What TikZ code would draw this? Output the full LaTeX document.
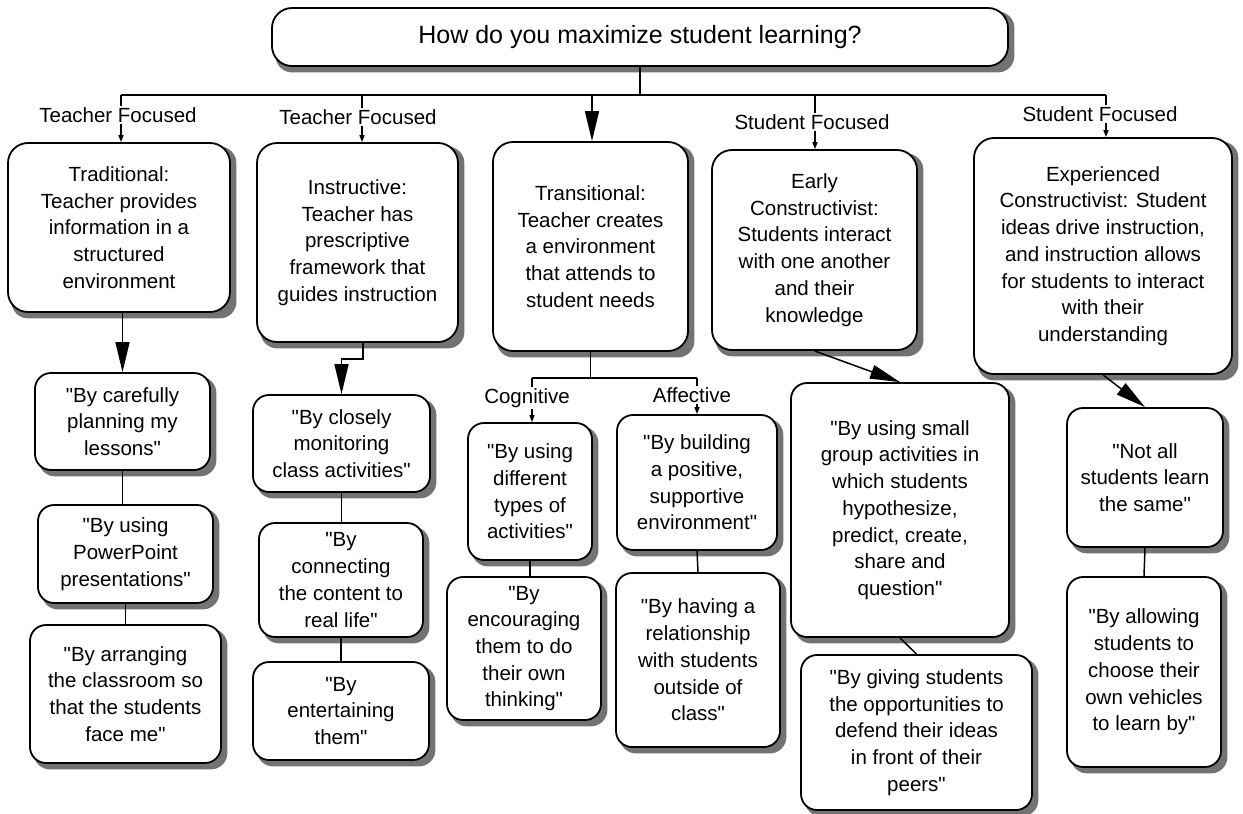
\documentclass[tikz,border=0pt]{standalone}
\usepackage{fontspec}
\setmainfont{Liberation Sans}[Ligatures=TeXOff]
\usetikzlibrary{arrows.meta,calc}
\pgfdeclarelayer{shadowlayer}
\pgfdeclarelayer{paper}
\pgfsetlayers{paper,shadowlayer,main}
\newcommand\boxfont{\fontsize{20.5}{26.7}\selectfont}
\newcommand\titlefont{\fontsize{25}{30}\selectfont}
\begin{document}
\begin{tikzpicture}[x=1pt,y=-1pt,
  box/.style={draw, line width=1.8pt, rounded corners=16pt, fill=white, align=center,
    inner sep=0pt, font=\boxfont},
  bigbox/.style={box, rounded corners=20pt},
  boxshadow/.style={fill=black!55, draw=black!55, line width=1pt, rounded corners=16pt},
  lab/.style={fill=white, inner sep=1pt, font=\boxfont},
  conn/.style={line width=1.5pt},
  big/.style={conn, -{Triangle[width=14pt,length=30pt]}},
  tip/.style={conn, -{Triangle[width=5pt,length=7pt]}}]
\begin{pgfonlayer}{paper}
\fill[white] (0,0) rectangle (1243,814);
\end{pgfonlayer}
\useasboundingbox (0,0) rectangle (1243,814);

% top question
\node[bigbox, font=\titlefont, minimum width=736pt, minimum height=58pt] (Q) at (640,37) {How do you maximize student learning?};

% first level
\node[bigbox, minimum width=222pt, minimum height=169pt] (B1) at (119,227.5) {Traditional:\\Teacher provides\\information in a\\structured\\environment};
\node[bigbox, minimum width=201pt, minimum height=199pt] (B2) at (357.5,242.5) {Instructive:\\Teacher has\\prescriptive\\framework that\\guides instruction};
\node[bigbox, minimum width=195pt, minimum height=209pt] (B3) at (590.5,246.5) {Transitional:\\Teacher creates\\a environment\\that attends to\\student needs};
\node[bigbox, minimum width=205pt, minimum height=200pt] (B4) at (814.5,250) {Early\\Constructivist:\\Students interact\\with one another\\and their\\knowledge};
\node[bigbox, minimum width=258pt, minimum height=236pt] (B5) at (1103,256) {Experienced\\Constructivist: Student\\ideas drive instruction,\\and instruction allows\\for students to interact\\with their\\understanding};

% column 1
\node[box, minimum width=175pt, minimum height=97pt] (C1) at (122.5,421.5) {"By carefully\\planning my\\lessons"};
\node[box, minimum width=175pt, minimum height=98pt] (C2) at (125.5,554) {"By using\\PowerPoint\\presentations"};
\node[box, minimum width=191pt, minimum height=138pt] (C3) at (125.5,694) {"By arranging\\the classroom so\\that the students\\face me"};

% column 2
\node[box, minimum width=177pt, minimum height=97pt] (D1) at (341.5,443.5) {"By closely\\monitoring\\class activities"};
\node[box, minimum width=164pt, minimum height=114pt] (D2) at (341,580) {"By\\connecting\\the content to\\real life"};
\node[box, minimum width=176pt, minimum height=98pt] (D3) at (341,711) {"By\\entertaining\\them"};

% column 3
\node[box, minimum width=124pt, minimum height=137pt] (E1) at (530,491.5) {"By using\\different\\types of\\activities"};
\node[box, minimum width=154pt, minimum height=143pt] (E2) at (524,648.5) {"By\\encouraging\\them to do\\their own\\thinking"};
\node[box, minimum width=160pt, minimum height=135pt] (F1) at (697,482.5) {"By building\\a positive,\\supportive\\environment"};
\node[box, minimum width=164pt, minimum height=174pt] (F2) at (698,660) {"By having a\\relationship\\with students\\outside of\\class"};

% column 4
\node[box, minimum width=218pt, minimum height=254pt] (G1) at (900,510) {"By using small\\group activities in\\which students\\hypothesize,\\predict, create,\\share and\\question"};
\node[box, minimum width=231pt, minimum height=155pt] (G2) at (916.5,732.5) {"By giving students\\the opportunities to\\defend their ideas\\in front of their\\peers"};

% column 5
\node[box, minimum width=156pt, minimum height=139pt] (H1) at (1145,477.5) {"Not all\\students learn\\the same"};
\node[box, minimum width=154pt, minimum height=190pt] (H2) at (1144,672) {"By allowing\\students to\\choose their\\own vehicles\\to learn by"};

% shadows
\begin{pgfonlayer}{shadowlayer}
\foreach \n in {Q,B1,B2,B3,B4,B5,C1,C2,C3,D1,D2,D3,E1,E2,F1,F2,G1,G2,H1,H2}{
  \path[boxshadow] ($(\n.south west)+(5pt,-5pt)$) rectangle ($(\n.north east)+(5pt,-5pt)$);
}
\end{pgfonlayer}

% top bar
\coordinate (t1) at (121,95);
\coordinate (t2) at (362,95);
\coordinate (t3) at (592,95);
\coordinate (t4) at (815,95);
\coordinate (t5) at (1106,95);
\draw[conn] (Q.south) -- (Q.south |- t1);
\draw[conn] (t1) -- (t5);

\node[lab] (L1) at (118,115) {Teacher Focused};
\node[lab] (L2) at (358,117) {Teacher Focused};
\node[lab] (L4) at (812,122) {Student Focused};
\node[lab] (L5) at (1100,114) {Student Focused};

\draw[conn] (t1) -- (t1 |- L1.north); \draw[tip] (t1 |- L1.south) -- (t1 |- B1.north);
\draw[conn] (t2) -- (t2 |- L2.north); \draw[tip] (t2 |- L2.south) -- (t2 |- B2.north);
\draw[big] (t3) -- (t3 |- B3.north);
\draw[conn] (t4) -- (t4 |- L4.north); \draw[tip] (t4 |- L4.south) -- (t4 |- B4.north);
\draw[conn] (t5) -- (t5 |- L5.north); \draw[tip] (t5 |- L5.south) -- (t5 |- B5.north);

% column 1 links
\draw[big] (B1.south -| C1.north) -- (C1.north);
\draw[conn] (C1.south) -- (C1.south |- C2.north);
\draw[conn] (C2.south) -- (C3.north);

% column 2 links
\draw[big] ([xshift=5.5pt]B2.south) -- ++(0,16) -| (D1.north);
\draw[conn] (D1.south) -- (D1.south |- D2.north);
\draw[conn] (D2.south) -- (D3.north);

% column 3 links
\coordinate (kc) at (532,378);
\coordinate (ka) at (697,378);
\draw[conn] (B3.south) -- (B3.south |- kc);
\draw[conn] (kc) -- (ka);
\node[lab] (LC) at (527,398) {Cognitive};
\node[lab] (LA) at (692,395) {Affective};
\draw[conn] (kc) -- (kc |- LC.north); \draw[tip] (kc |- LC.south) -- (kc |- E1.north);
\draw[conn] (ka) -- (ka |- LA.north); \draw[tip] (ka |- LA.south) -- (ka |- F1.north);
\draw[conn] (E1.south) -- (E1.south |- E2.north);
\draw[conn] (F1.south) -- (F2.north);

% column 4 links
\draw[big] (B4.south) -- (G1.north);
\draw[conn] (G1.south) -- (G2.north);

% column 5 links
\draw[big] (B5.south) -- (H1.north);
\draw[conn] (H1.south) -- (H2.north);
\end{tikzpicture}
\end{document}
